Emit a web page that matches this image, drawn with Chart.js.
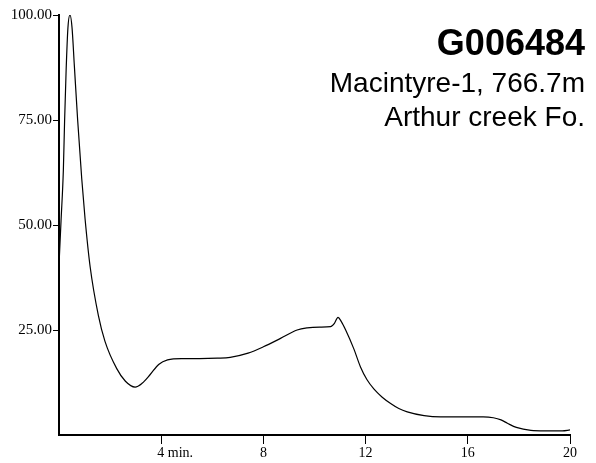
<!DOCTYPE html>
<html>
<head>
<meta charset="utf-8">
<script src="https://cdn.jsdelivr.net/npm/chart.js@4.4.1/dist/chart.umd.min.js"></script>
<style>
  html, body { margin: 0; padding: 0; background: #fff; }
  #wrap { width: 596px; height: 463px; }
</style>
</head>
<body>
<div id="wrap"><canvas id="trace" width="596" height="463"></canvas></div>
<script>
// retention time (min) and relative intensity
const times = [0, 0.08, 0.17, 0.22, 0.28, 0.35, 0.43, 0.51, 0.6, 0.73, 0.89, 1.02,
  1.22, 1.54, 1.8, 2.26, 2.6, 2.98, 3.25, 3.57, 3.9, 4.25, 4.8, 5.5, 6.2, 6.7,
  7.4, 8.0, 8.67, 9.32, 9.71, 10.2, 10.63, 10.78, 10.92, 11.05, 11.22, 11.54,
  11.8, 12.05, 12.33, 12.65, 12.98, 13.3, 13.63, 14.29, 14.94, 15.8, 16.6, 17.0,
  17.3, 17.55, 17.9, 18.47, 19.0, 19.7, 20.0];
const intensity = [40.5, 51, 63, 75, 87, 97, 100, 97, 88, 75, 61, 51.5,
  40, 28.5, 22.3, 15.8, 12.8, 11.4, 12.3, 14.4, 16.8, 17.9, 18.2, 18.2, 18.3, 18.5,
  19.5, 21, 23, 25, 25.5, 25.7, 25.8, 26.6, 28.0, 27.0, 25.0, 20.5,
  16.2, 13.2, 10.9, 9.0, 7.5, 6.3, 5.5, 4.6, 4.3, 4.3, 4.3, 4.1,
  3.6, 2.8, 1.8, 1.1, 1.0, 1.0, 1.2];

const yTicks = [25, 50, 75, 100];
const xTicks = [4, 8, 12, 16, 20];

const sampleId = 'G006484';
const sampleLines = ['Macintyre-1, 766.7m', 'Arthur creek Fo.'];

const serif = "'Liberation Serif', 'Times New Roman', serif";
const sans = "'Liberation Sans', Arial, sans-serif";

// sample label in the top right corner
const labelPlugin = {
  id: 'sampleLabel',
  afterDraw(chart) {
    const c = chart.ctx;
    c.save();
    c.fillStyle = '#000';
    c.textAlign = 'right';
    c.textBaseline = 'alphabetic';
    c.font = 'bold 36px ' + sans;
    c.fillText(sampleId, 585, 55);
    c.font = '28px ' + sans;
    c.fillText(sampleLines[0], 585, 92);
    c.fillText(sampleLines[1], 585, 126);
    c.restore();
  }
};

const points = times.map((t, i) => ({x: t, y: intensity[i]}));

new Chart(document.getElementById('trace'), {
  type: 'line',
  data: {
    datasets: [{
      data: points,
      borderColor: '#000',
      borderWidth: 1.2,
      pointRadius: 0,
      fill: false,
      cubicInterpolationMode: 'monotone'
    }]
  },
  options: {
    responsive: false,
    animation: false,
    layout: {padding: {top: 15, right: 26, left: 0, bottom: 0}},
    plugins: {legend: {display: false}, tooltip: {enabled: false}},
    scales: {
      x: {
        type: 'linear',
        min: 0, max: 20,
        afterBuildTicks: s => { s.ticks = xTicks.map(v => ({value: v})); },
        afterFit: s => { s.height = 28; },
        border: {display: true, color: '#000', width: 2},
        grid: {drawOnChartArea: false, drawTicks: true, tickLength: 9, color: '#000', lineWidth: 1},
        ticks: {
          color: '#000',
          padding: 1,
          maxRotation: 0,
          font: {family: serif, size: 14},
          // first label keeps its number under the tick, unit trailing to the right
          callback: v => v === 4 ? '        4 min.' : String(v)
        }
      },
      y: {
        min: 0, max: 100,
        afterBuildTicks: s => { s.ticks = yTicks.map(v => ({value: v})); },
        afterFit: s => { s.width = 59; },
        border: {display: true, color: '#000', width: 2},
        grid: {drawOnChartArea: false, drawTicks: true, tickLength: 6, color: '#000', lineWidth: 1},
        ticks: {
          color: '#000',
          padding: 1,
          font: {family: serif, size: 15},
          callback: v => v.toFixed(2)
        }
      }
    }
  },
  plugins: [labelPlugin]
});
</script>
</body>
</html>
